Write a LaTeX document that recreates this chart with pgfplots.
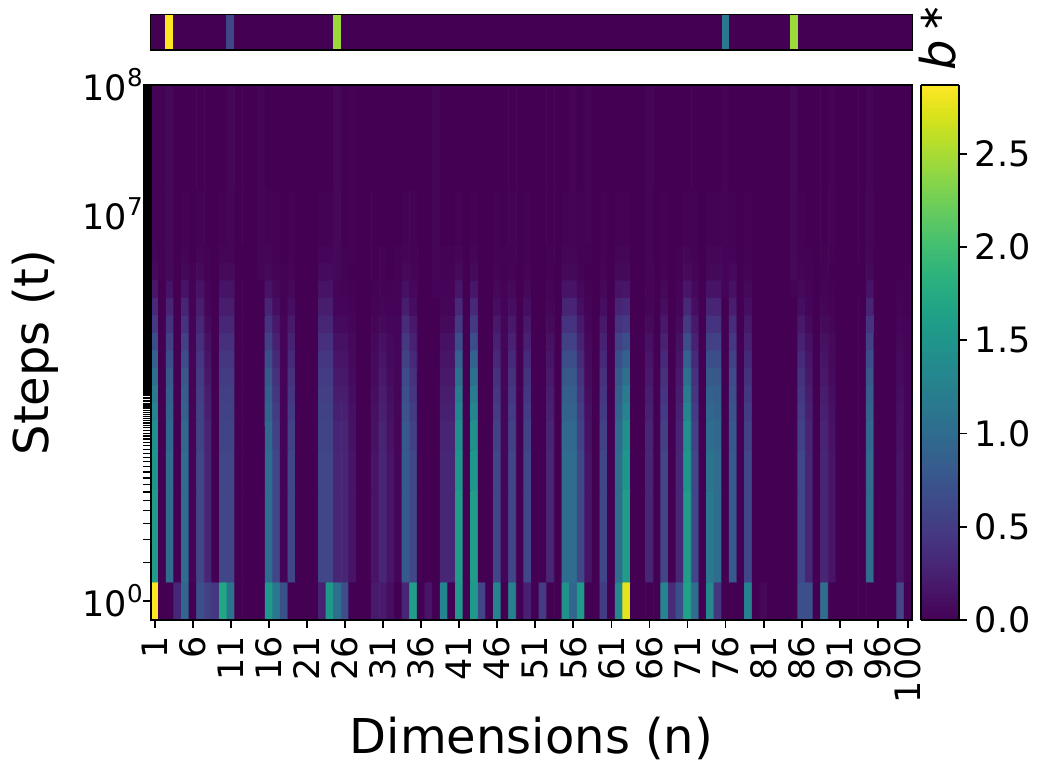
\documentclass[border=0pt]{standalone}
\usepackage{pgfplots}
\pgfplotsset{compat=1.18}
\usepackage{fontspec}
\setmainfont{DejaVu Sans}
\newcommand{\tensup}[1]{10\raisebox{0.4em}{\fontsize{12.25}{12.25}\selectfont #1}}
\begin{document}
\begin{tikzpicture}[x=1pt,y=1pt]
\path[use as bounding box] (0,0) rectangle (519.5pt,381pt);
\begin{axis}[name=strip,at={(75.25pt,356pt)},anchor=south west,scale only axis,width=381pt,height=17.75pt,
  xmin=0.5,xmax=100.5,ymin=0,ymax=1,ticks=none,axis line style={line width=0.9pt},
  colormap name=viridis,point meta min=0,point meta max=2.87,axis on top]
\addplot[surf,shader=flat corner,mesh/rows=2,mesh/cols=12,point meta=explicit] coordinates {
(0.5,0)[0] (2.5,0)[2.87] (3.5,0)[0] (10.5,0)[.6] (11.5,0)[0] (24.5,0)[2.45] (25.5,0)[0] (75.5,0)[1.15] (76.5,0)[0] (84.5,0)[2.45] (85.5,0)[0] (100.5,0)[0]
(0.5,1)[0] (2.5,1)[0] (3.5,1)[0] (10.5,1)[0] (11.5,1)[0] (24.5,1)[0] (25.5,1)[0] (75.5,1)[0] (76.5,1)[0] (84.5,1)[0] (85.5,1)[0] (100.5,1)[0]
};
\end{axis}
\begin{axis}[at={(75.5pt,71pt)},anchor=south west,scale only axis,width=380.5pt,height=267.5pt,
  xmin=0.5,xmax=100.5,ymode=log,ymin=0.7125,ymax=10000,
  colormap name=viridis,point meta min=0,point meta max=2.87,axis on top,
  axis line style={line width=0.9pt},
  tick align=outside,xtick pos=bottom,ytick pos=left,
  major tick length=4pt,minor tick length=4pt,
  every tick/.style={black,line width=0.9pt},
  every minor tick/.style={black,line width=0.65pt},
  xtick={1,6,11,16,21,26,31,36,41,46,51,56,61,66,71,76,81,86,91,96,100},
  xticklabels={1,6,11,16,21,26,31,36,41,46,51,56,61,66,71,76,81,86,91,96,100},
  xticklabel style={rotate=90,anchor=east,font=\fontsize{17.5}{17.5}\selectfont,inner sep=4pt},
  ytick={1,1000,10000},
  yticklabels={\tensup{0},\tensup{7},\tensup{8}},
  yticklabel style={font=\fontsize{17.5}{17.5}\selectfont,inner sep=0pt},
  minor ytick={2,3,...,100,102,104,...,200,204,208,...,500,510,520,...,1000,1020,1040,...,2000,2040,2080,...,5000,5080,5160,...,10000},
  xlabel={Dimensions (n)},ylabel={Steps (t)},
  every axis x label/.style={at={(0.5,0)},anchor=center,yshift=-59pt,font=\fontsize{24}{24}\selectfont},
  every axis y label/.style={at={(0,0.5)},anchor=center,rotate=90,yshift=58pt,font=\fontsize{24}{24}\selectfont},
  colorbar sampled,
  colorbar style={at={(1.0118,0)},anchor=south west,scale only axis,width=19pt,height=267.5pt,samples=144,
    ytick=\empty,xtick=\empty,axis line style={line width=0.9pt}},
]
\addplot[surf,shader=flat corner,mesh/rows=17,mesh/cols=101,point meta=explicit] table[row sep=\\,meta index=0,
  x expr={mod(\coordindex,101)+0.5},
  y expr={\coordindex<101?0.7125:(\coordindex<202?1.403:(\coordindex<303?7.25:(\coordindex<404?14.8:(\coordindex<505?25.3:(\coordindex<606?34.6:(\coordindex<707?47.2:(\coordindex<808?64.6:(\coordindex<909?88.2:(\coordindex<1010?120.6:(\coordindex<1111?164.9:(\coordindex<1212?225:(\coordindex<1313?308:(\coordindex<1414?421:(\coordindex<1515?575:(\coordindex<1616?1535:10000)))))))))))))))}] {%
2.87\\0\\0\\.3\\.95\\0\\.7\\.55\\.45\\1.7\\1.1\\0\\0\\0\\0\\1.55\\1.15\\.7\\0\\0\\0\\0\\.25\\1.55\\1.05\\.7\\0\\0\\0\\.2\\.2\\.1\\0\\.3\\1.6\\0\\.15\\0\\1.3\\0\\1.55\\0\\1.55\\.6\\0\\1.3\\0\\1.25\\0\\.25\\0\\.5\\0\\0\\1.45\\.95\\1.55\\0\\0\\.5\\0\\1.35\\2.75\\0\\0\\0\\0\\1.3\\.35\\.7\\1.65\\1\\0\\1.35\\.45\\0\\0\\0\\1.25\\0\\.05\\0\\0\\0\\0\\.7\\.7\\0\\1.05\\0\\0\\0\\0\\0\\0\\0\\0\\0\\.6\\0\\0\\%
1.58\\0\\1.02\\0\\1.02\\.02\\.6\\.3\\0\\.6\\.6\\0\\0\\0\\0\\1.02\\.6\\.02\\.6\\0\\0\\0\\.6\\.6\\.3\\.3\\.15\\0\\0\\.15\\.3\\.15\\.04\\.8\\.6\\0\\0\\0\\.3\\.3\\1.58\\0\\1.58\\0\\0\\.6\\.04\\.6\\0\\.6\\0\\0\\.3\\0\\1.02\\1.02\\.6\\.15\\0\\.6\\0\\1.02\\1.58\\0\\0\\.3\\0\\.6\\0\\.3\\1.58\\.6\\0\\1.15\\1.02\\0\\.8\\0\\.6\\0\\0\\0\\0\\0\\0\\.6\\.3\\0\\.3\\.15\\0\\0\\0\\0\\1.02\\0\\0\\0\\.15\\.02\\0\\%
1.5\\0\\1\\0\\1\\.02\\.6\\.3\\0\\.6\\.6\\0\\0\\0\\0\\1\\.6\\.02\\.6\\0\\0\\0\\.6\\.6\\.3\\.3\\.15\\0\\0\\.15\\.3\\.15\\.04\\.8\\.6\\0\\0\\0\\.3\\.3\\1.5\\0\\1.5\\0\\0\\.6\\.04\\.6\\0\\.6\\0\\0\\.3\\0\\1\\1\\.6\\.15\\0\\.6\\0\\1\\1.5\\0\\0\\.3\\0\\.6\\0\\.3\\1.5\\.6\\0\\1.1\\1\\0\\.8\\0\\.6\\0\\0\\0\\0\\0\\0\\.6\\.3\\0\\.3\\.15\\0\\0\\0\\0\\1\\0\\0\\0\\.15\\.02\\0\\%
1.42\\0\\.96\\0\\.96\\.02\\.58\\.28\\0\\.58\\%
.58\\0\\0\\0\\0\\.96\\.55\\.02\\.55\\0\\%
0\\0\\.58\\.58\\.28\\.28\\.13\\0\\0\\.13\\%
.28\\.13\\.04\\.77\\.55\\0\\0\\0\\.28\\.28\\%
1.42\\0\\1.42\\0\\0\\.55\\.04\\.55\\0\\.55\\%
0\\0\\.28\\0\\.96\\.96\\.55\\.13\\0\\.55\\%
0\\.96\\1.42\\0\\0\\.28\\0\\.55\\0\\.28\\%
1.42\\.55\\0\\1.02\\.96\\0\\.77\\0\\.55\\0\\%
0\\0\\0\\0\\0\\.55\\.28\\0\\.28\\.13\\%
0\\0\\0\\0\\.96\\0\\0\\0\\.13\\.02\\0\\%
1.3\\0\\.9\\0\\.9\\.02\\.56\\.25\\0\\.56\\%
.56\\0\\0\\0\\0\\.9\\.5\\.02\\.5\\0\\%
0\\0\\.56\\.56\\.25\\.25\\.12\\0\\0\\.12\\%
.25\\.12\\.04\\.73\\.5\\0\\0\\0\\.25\\.25\\%
1.3\\0\\1.3\\0\\0\\.5\\.04\\.5\\0\\.5\\%
0\\0\\.25\\0\\.9\\.9\\.5\\.12\\0\\.5\\%
0\\.9\\1.3\\0\\0\\.25\\0\\.5\\0\\.25\\%
1.3\\.5\\0\\.95\\.9\\0\\.73\\0\\.5\\0\\%
0\\0\\0\\0\\0\\.5\\.25\\0\\.25\\.12\\%
0\\0\\0\\0\\.9\\0\\0\\0\\.12\\.02\\0\\%
1.18\\0\\.85\\0\\.85\\.02\\.53\\.22\\0\\.53\\%
.53\\0\\0\\0\\0\\.85\\.45\\.02\\.45\\0\\%
0\\0\\.53\\.53\\.22\\.22\\.1\\0\\0\\.1\\%
.22\\.1\\.04\\.69\\.45\\0\\0\\0\\.22\\.22\\%
1.18\\0\\1.18\\0\\0\\.45\\.04\\.45\\0\\.45\\%
0\\0\\.22\\0\\.85\\.85\\.45\\.1\\0\\.45\\%
0\\.85\\1.18\\0\\0\\.22\\0\\.45\\0\\.22\\%
1.18\\.45\\0\\.88\\.85\\0\\.69\\0\\.45\\0\\%
0\\0\\0\\0\\0\\.45\\.22\\0\\.22\\.1\\%
0\\0\\0\\0\\.85\\0\\0\\0\\.1\\.02\\0\\%
1.05\\0\\.78\\0\\.78\\.02\\.5\\.18\\0\\.5\\%
.5\\0\\0\\0\\0\\.78\\.4\\.02\\.4\\0\\%
0\\0\\.5\\.5\\.18\\.18\\.08\\0\\0\\.08\\%
.18\\.08\\.04\\.64\\.4\\0\\0\\0\\.18\\.18\\%
1.05\\0\\1.05\\0\\0\\.4\\.04\\.4\\0\\.4\\%
0\\0\\.18\\0\\.78\\.78\\.4\\.08\\0\\.4\\%
0\\.78\\1.05\\0\\0\\.18\\0\\.4\\0\\.18\\%
1.05\\.4\\0\\.8\\.78\\0\\.64\\0\\.4\\0\\%
0\\0\\0\\0\\0\\.4\\.18\\0\\.18\\.08\\%
0\\0\\0\\0\\.78\\0\\0\\0\\.08\\.02\\0\\%
.88\\0\\.68\\0\\.68\\.02\\.45\\.15\\0\\.45\\%
.45\\0\\0\\0\\0\\.68\\.33\\.02\\.33\\0\\%
0\\0\\.45\\.45\\.15\\.15\\.07\\0\\0\\.07\\%
.15\\.07\\.04\\.56\\.33\\0\\0\\0\\.15\\.15\\%
.88\\0\\.88\\0\\0\\.33\\.04\\.33\\0\\.33\\%
0\\0\\.15\\0\\.68\\.68\\.33\\.07\\0\\.33\\%
0\\.68\\.88\\0\\0\\.15\\0\\.33\\0\\.15\\%
.88\\.33\\0\\.7\\.68\\0\\.56\\0\\.33\\0\\%
0\\0\\0\\0\\0\\.33\\.15\\0\\.15\\.07\\%
0\\0\\0\\0\\.68\\0\\0\\0\\.07\\.02\\0\\%
.68\\0\\.55\\0\\.55\\.02\\.38\\.12\\0\\.38\\%
.38\\0\\0\\0\\0\\.55\\.26\\.02\\.26\\0\\%
0\\0\\.38\\.38\\.12\\.12\\.05\\0\\0\\.05\\%
.12\\.05\\.04\\.46\\.26\\0\\0\\0\\.12\\.12\\%
.68\\0\\.68\\0\\0\\.26\\.04\\.26\\0\\.26\\%
0\\0\\.12\\0\\.55\\.55\\.26\\.05\\0\\.26\\%
0\\.55\\.68\\0\\0\\.12\\0\\.26\\0\\.12\\%
.68\\.26\\0\\.55\\.55\\0\\.46\\0\\.26\\0\\%
0\\0\\0\\0\\0\\.26\\.12\\0\\.12\\.05\\%
0\\0\\0\\0\\.55\\0\\0\\0\\.05\\.02\\0\\%
.48\\0\\.42\\0\\.42\\.02\\.3\\.07\\0\\.3\\%
.3\\0\\0\\0\\0\\.42\\.18\\.02\\.18\\0\\%
0\\0\\.3\\.3\\.07\\.07\\.03\\0\\0\\.03\\%
.07\\.03\\.03\\.35\\.18\\0\\0\\0\\.07\\.07\\%
.48\\0\\.48\\0\\0\\.18\\.03\\.18\\0\\.18\\%
0\\0\\.07\\0\\.42\\.42\\.18\\.03\\0\\.18\\%
0\\.42\\.48\\0\\0\\.07\\0\\.18\\0\\.07\\%
.48\\.18\\0\\.42\\.42\\0\\.35\\0\\.18\\0\\%
0\\0\\0\\0\\0\\.18\\.07\\0\\.07\\.03\\%
0\\0\\0\\0\\.42\\0\\0\\0\\.03\\.02\\0\\%
.32\\0\\.28\\0\\.28\\.01\\.22\\.04\\0\\.22\\%
.22\\0\\0\\0\\0\\.28\\.1\\.01\\.1\\0\\%
0\\0\\.22\\.22\\.04\\.04\\.02\\0\\0\\.02\\%
.04\\.02\\.02\\.22\\.1\\0\\0\\0\\.04\\.04\\%
.32\\0\\.32\\0\\0\\.1\\.02\\.1\\0\\.1\\%
0\\0\\.04\\0\\.28\\.28\\.1\\.02\\0\\.1\\%
0\\.28\\.32\\0\\0\\.04\\0\\.1\\0\\.04\\%
.32\\.1\\0\\.28\\.28\\0\\.22\\0\\.1\\0\\%
0\\0\\0\\0\\0\\.1\\.04\\0\\.04\\.02\\%
0\\0\\0\\0\\.28\\0\\0\\0\\.02\\.01\\0\\%
.16\\0\\.14\\0\\.14\\.01\\.14\\.02\\0\\.14\\%
.14\\0\\0\\0\\0\\.14\\.05\\.01\\.05\\0\\%
0\\0\\.14\\.14\\.03\\.02\\.01\\0\\0\\.01\\%
.02\\.01\\.02\\.12\\.05\\0\\0\\.02\\.02\\.02\\%
.16\\0\\.16\\0\\0\\.05\\.02\\.05\\0\\.05\\%
0\\0\\.02\\0\\.14\\.14\\.05\\.01\\0\\.05\\%
0\\.14\\.16\\0\\0\\.02\\0\\.05\\0\\.02\\%
.16\\.05\\0\\.14\\.14\\.02\\.12\\0\\.05\\0\\%
0\\0\\0\\0\\.02\\.05\\.02\\0\\.02\\.01\\%
0\\0\\0\\0\\.14\\0\\0\\0\\.01\\.01\\0\\%
.07\\.01\\.06\\0\\.06\\.01\\.07\\.01\\0\\.07\\%
.07\\0\\0\\0\\.02\\.06\\.02\\.01\\.02\\0\\%
0\\0\\.07\\.07\\.06\\.01\\0\\0\\0\\0\\%
.01\\0\\.01\\.05\\.02\\0\\0\\.03\\.01\\.01\\%
.07\\0\\.07\\0\\0\\.02\\.01\\.02\\0\\.02\\%
0\\0\\.01\\0\\.06\\.06\\.02\\0\\0\\.02\\%
0\\.06\\.07\\0\\0\\.03\\0\\.02\\0\\.01\\%
.07\\.02\\0\\.06\\.06\\.02\\.05\\0\\.02\\0\\%
0\\0\\0\\0\\.05\\.02\\.01\\0\\.01\\0\\%
0\\0\\0\\0\\.06\\0\\0\\0\\0\\.01\\0\\%
.03\\.01\\.05\\0\\.03\\0\\.03\\.01\\0\\.03\\%
.03\\0\\0\\0\\.03\\.03\\.01\\0\\.01\\0\\%
0\\0\\.03\\.03\\.06\\.01\\.01\\0\\0\\0\\%
.01\\0\\.01\\.02\\.01\\0\\0\\.04\\.01\\.01\\%
.03\\0\\.03\\0\\0\\.01\\.01\\.01\\0\\.01\\%
0\\0\\.01\\0\\.03\\.03\\.01\\.01\\0\\.01\\%
0\\.03\\.03\\0\\0\\.03\\0\\.01\\0\\.01\\%
.03\\.01\\0\\.03\\.03\\.02\\.02\\0\\.01\\0\\%
0\\0\\0\\0\\.05\\.01\\.01\\0\\.01\\.01\\%
0\\0\\0\\0\\.03\\0\\0\\0\\0\\0\\0\\%
.02\\.01\\.05\\0\\.01\\0\\.01\\0\\0\\.01\\%
.03\\0\\0\\0\\.03\\.01\\.01\\0\\.01\\0\\%
0\\0\\.01\\.01\\.05\\0\\.01\\0\\0\\0\\%
0\\0\\0\\.01\\.01\\0\\0\\.04\\0\\0\\%
.01\\0\\.01\\0\\0\\.01\\0\\.01\\0\\.01\\%
0\\0\\0\\0\\.01\\.02\\.01\\.02\\0\\.01\\%
0\\.01\\.01\\0\\0\\.03\\0\\.01\\0\\0\\%
.01\\.01\\0\\.01\\.01\\.02\\.01\\0\\.01\\0\\%
0\\0\\0\\0\\.05\\.01\\0\\0\\0\\.02\\%
0\\0\\0\\0\\.03\\0\\0\\0\\0\\0\\0\\%
.02\\.01\\.05\\0\\0\\0\\0\\0\\0\\0\\%
.03\\0\\0\\0\\.03\\0\\0\\0\\0\\0\\%
0\\0\\0\\0\\.05\\0\\.01\\0\\0\\0\\%
0\\0\\0\\0\\0\\0\\0\\.04\\0\\0\\%
0\\0\\0\\0\\0\\0\\0\\0\\0\\0\\%
0\\0\\0\\0\\0\\.02\\0\\.02\\0\\0\\%
0\\0\\0\\0\\0\\.03\\0\\0\\0\\0\\%
0\\0\\0\\0\\0\\.02\\0\\0\\0\\0\\%
0\\0\\0\\0\\.05\\0\\0\\0\\0\\.02\\%
0\\0\\0\\0\\.03\\0\\0\\0\\0\\0\\0\\%
0\\0\\0\\0\\0\\0\\0\\0\\0\\0\\%
0\\0\\0\\0\\0\\0\\0\\0\\0\\0\\%
0\\0\\0\\0\\0\\0\\0\\0\\0\\0\\%
0\\0\\0\\0\\0\\0\\0\\0\\0\\0\\%
0\\0\\0\\0\\0\\0\\0\\0\\0\\0\\%
0\\0\\0\\0\\0\\0\\0\\0\\0\\0\\%
0\\0\\0\\0\\0\\0\\0\\0\\0\\0\\%
0\\0\\0\\0\\0\\0\\0\\0\\0\\0\\%
0\\0\\0\\0\\0\\0\\0\\0\\0\\0\\%
0\\0\\0\\0\\0\\0\\0\\0\\0\\0\\0\\%
};
\end{axis}
\begin{axis}[at={(460.25pt,71pt)},anchor=south west,scale only axis,width=19pt,height=267.5pt,
  xmin=0,xmax=1,ymin=0,ymax=2.87,xtick=\empty,clip=false,
  ytick={0,0.5,1,1.5,2,2.5},axis y line*=right,axis x line=none,tick align=outside,
  major tick length=4pt,
  every tick/.style={black,line width=0.9pt},
  y axis line style={line width=0.9pt},
  yticklabel style={font=\fontsize{17.5}{17.5}\selectfont,inner sep=4pt,/pgf/number format/assume math mode=true,/pgf/number format/fixed,/pgf/number format/fixed zerofill,/pgf/number format/precision=1}]
\end{axis}
\node[rotate=90,anchor=center,font=\fontsize{24}{24}\selectfont] at (469pt,353.5pt) {\textit{b}};
\node[rotate=90,anchor=center,font=\fontsize{17}{17}\selectfont] at (466pt,372pt) {∗};
\end{tikzpicture}
\end{document}
